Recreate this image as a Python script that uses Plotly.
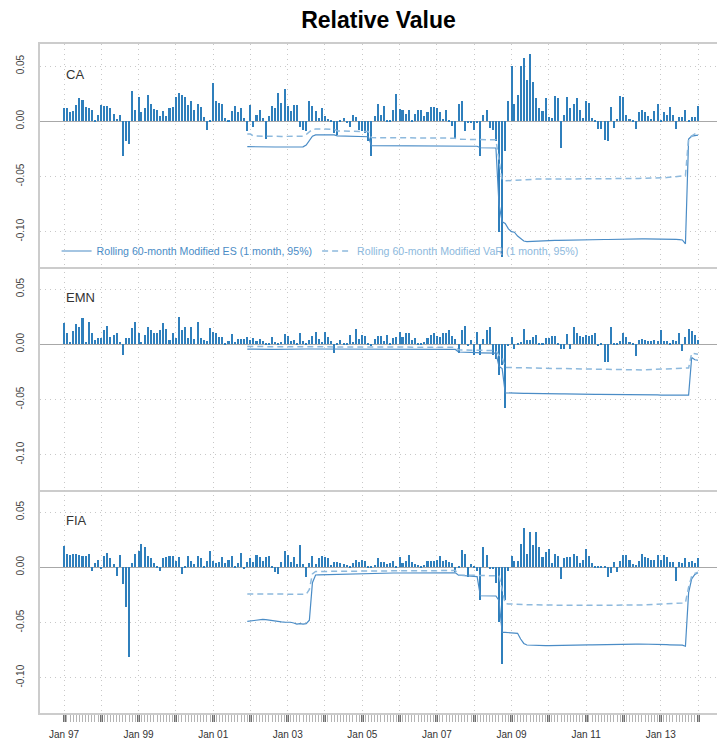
import pandas as pd
import plotly.graph_objects as go
from plotly.subplots import make_subplots

# ---------------- data (monthly returns, in units of 0.001) ----------------
CA = [
    12, 12, 8, 9, 15, 21, 19, 13, 12, 10, 1, 6,
    15, 14, 14, 12, 7, 2, 6, -31, -18, -21, 27, 10,
    22, 8, 12, 24, 16, 11, 10, 5, 9, 5, 12, 13,
    22, 26, 24, 22, 15, 18, 10, 16, 13, 4, -8, 1,
    35, 18, 17, 16, 3, 0.5, 9, 14, 8, 12, 3, -9,
    15, -5, 6, 10, 3, -16, 5, 14, 12, 26, 17, 29,
    14, 9, 15, 15, -5, -8, -9, 18, 14, 9, 3, 12,
    5, 2, 1, -11, -12, 1, 3, -1, -5, 6, 4, -8,
    -9, -11, -18, -31, 5, 16, 6, 14, 1, 0.5, 10, 25,
    11, 10, 7, 10, 1, 7, 10, 10, 5, 8, 13, 13,
    12, 8, 2, 10, 1, -4, -15, 16, 18, -9, -1, -2,
    -8, -1, -31, 6, 10, -6, -8, -18, -100, -123, -27, 18,
    50, 16, 24, 50, 57, 37, 61, 36, 21, 12, 9, 21,
    4, 3, 23, 21, -24, 6, 22, 12, 16, 21, 10, 3,
    18, 17, 3, 1, -7, -7, -17, -18, 13, -6, 2, 23,
    22, 6, 2, 0.5, -7, 8, 10, 8, 5, 2, 9, 16,
    1, 8, 6, 13, 6, -7, 4, 4, 10, 1, 4, 4,
    14,
]
EMN = [
    19, 10, 2, 12, 18, 16, 24, 2, 20, 10, 4, 6,
    6, 13, 17, 7, 8, 10, 2, -10, 6, 6, 15, 20,
    10, 2, 8, 16, 13, 10, 10, 13, 19, 14, 4, 10,
    6, 25, 13, 16, 6, 16, 5, 20, 6, 4, 3, 15,
    11, 10, 7, 7, 1, 3, 9, 2, 5, 5, 5, 7,
    4, 6, 3, 5, 3, 1.5, 0.5, 7, 2, 0.5, 2, 9,
    7.5, 3, 4, 1, 10, 3, 1, 4, 7.5, 11, 4.5, 2,
    11, 6.6, 3, -8, 1.5, 3.6, 1, 1, 8, 2, 14, 4.5,
    8, 7.5, 1.5, -2, 5, 7.5, 7.5, 3, 8, 1, 6, 6.6,
    11, 6.6, 10, 10, 3.6, 5.7, 0.6, 1, 2, 5.7, 8, 10,
    7.5, 6.6, 10, 10, 13, 7.5, 4.5, -8, 13, 17, -2, 3.6,
    -10, 11, -10, 5, 13, 16, -10, -13, -28, -19, -58, -1,
    7, -4, 1, 2, 14, 4, 4, 7, 8, 1, 1, 6,
    6, 7.5, 7.5, 1, -4, -4, 9, -4, 16, 10, 7.5, 6.6,
    8, 7.5, 8.7, 10, -2, 0.5, -16, -16, 16, 1, 1, 3,
    10, 6.6, 2, 1, -11, 4, 4.5, 3.6, 2.7, 2.7, 3.6, 3,
    13, 2.7, 2.7, 1.5, 3.6, 3, 10, -6, 7, 14, 12, 8,
    4,
]
FIA = [
    19, 12, 11, 12, 12, 11, 10, 10, 12, -3, 4, 7,
    -1.5, 10, 13, 8, 3, -8, 11, -15, -36, -81, 4, 12,
    15, 21, 18, 10, 8, 4, 1, -3, 8, 9, 10, 10,
    6, 9, -6, 0.5, 10, 6, 3, 10, 8, 0.5, 6, 15,
    6, 4, 5, 9, 4, 7, 10, 0.5, 4, 13, -1.5, 5,
    8, 5, 11, 9, 6, 9, 10, 0.5, -4, -6, 5, 15,
    11, 5, 9, 3, 20, 3, -9, 4, 10, 3, 8, 10,
    9, 8, 2, 5, 5, 4, 3, 2, 1, 4, 7, 5,
    7, 6, 0.5, 1, 2, 8, 5, 5, 3, 4, 6, 1,
    9, 4, 6, 11, 5, 3, 2, 1, 2, 6, 6, 6,
    7, 10, 6, 7, 5, 4, -4, 1, 16, 12, -9, 3,
    1.5, -3, -30, 18, 11, -1.5, -2, -14, -50, -88, -30, -3,
    10, 6, 6, 21, 36, 12, 32, 20, 32, 18, 9, 14,
    17, 4, 12, 10, -11, 8, 9, 9, 12, 10, 4, 7,
    17, 10, 4, 1.5, 0.5, 1.5, 1, -9, -5, 5, -4, 6,
    11, 11, 7, 3, 2, 6, 12, 9, 8, 7, 7, 11,
    7, 11, 9, 5, 5, -12, 5, 4, 8, 5, 6, 4,
    8,
]

# rolling 60-month modified ES / VaR (units of 0.001), from month 60 onward
WINDOW = 60
CA_ES = [
    -23.0, -23.1, -23.2, -23.2, -23.2, -23.2, -23.3, -23.3, -23.3, -23.3,
    -23.3, -23.4, -23.4, -23.4, -23.4, -23.3, -23.3, -23.3, -23.2,
    -21.5, -17.5, -13.5, -12.3,
    -12.2, -12.2, -12.2, -12.2, -12.3, -12.3,
    -13.2, -13.3, -13.3, -13.4, -13.5, -13.5, -13.5, -13.6, -13.7, -13.8, -14.0,
    -22.0, -22.0, -22.1, -22.1, -22.1, -22.1, -22.2, -22.2, -22.2, -22.2,
    -22.2, -22.2, -22.3, -22.3, -22.3, -22.3, -22.3, -22.3, -22.3, -22.3,
    -22.4, -22.4, -22.4, -22.4, -22.4, -22.4, -22.4, -22.5, -22.5, -22.5,
    -22.5, -22.5, -22.5, -22.5, -22.6,
    -24.0, -24.0, -24.1, -24.1, -24.2, -24.2,
    -75.0, -91.0, -92.5, -97.5, -100.0, -100.5, -104.0, -106.5, -108.5, -109.0,
    -108.8, -108.6, -108.5, -108.4, -108.3, -108.2, -108.1, -108.0, -107.9, -107.9,
    -107.8, -107.8, -107.7, -107.7, -107.6, -107.6, -107.5, -107.5, -107.4, -107.4,
    -107.3, -107.3, -107.2, -107.2, -107.1, -107.1, -107.0, -107.0, -106.9, -106.9,
    -106.8, -106.8, -106.8, -106.7, -106.7, -106.7, -106.6, -106.6, -106.6, -106.5,
    -106.5, -106.5, -106.5, -106.6, -106.7, -106.8, -106.9, -107.0, -107.2, -107.5,
    -111.0, -16.0, -13.5, -13.0, -12.5,
]
CA_VAR = [
    -11.5, -11.6,
    -13.4, -13.5, -13.5, -13.5, -13.6, -13.6, -13.6, -13.6, -13.6, -13.7,
    -13.7, -13.7, -13.6, -13.6, -13.6, -13.5, -13.5,
    -12.0, -9.5, -7.3,
    -7.0, -7.0, -7.0, -7.0, -7.1, -7.1, -7.2,
    -8.8, -8.9, -8.9, -9.0, -9.0, -9.1, -9.1, -9.1, -9.2, -9.2, -9.3,
    -14.8, -14.8, -14.9, -14.9, -14.9, -15.0, -15.0, -15.0, -15.0, -15.0,
    -15.1, -15.1, -15.1, -15.1, -15.1, -15.1, -15.2, -15.2, -15.2, -15.2,
    -15.2, -15.2, -15.3, -15.3, -15.3, -15.3, -15.3, -15.3,
    -16.3, -16.4, -16.4, -16.5, -16.5, -16.5, -16.6, -16.6, -16.6, -16.7,
    -16.7, -16.7, -16.8,
    -35.0, -53.0, -54.0,
    -53.8, -53.5, -53.2, -53.0, -52.8, -52.7, -52.6, -52.5, -52.5, -52.4,
    -52.4, -52.4, -52.3, -52.3, -52.3, -52.3, -52.2, -52.2, -52.2, -52.2,
    -52.2, -52.2, -52.1, -52.1, -52.1, -52.1, -52.1, -52.1, -52.0, -52.0,
    -52.0, -52.0, -52.0, -52.0, -52.0, -51.9, -51.9, -51.9, -51.9, -51.9,
    -51.8, -51.8, -51.8, -51.7, -51.7, -51.6, -51.6, -51.5, -51.4, -51.3,
    -51.2, -51.0, -50.8, -50.5, -50.2, -49.9, -49.6,
    -49.3, -15.0, -13.0, -11.5, -10.5,
]
EMN_ES = [
    -4.4, -4.5, -4.5, -4.5, -4.6, -4.6, -4.6, -4.6, -4.6, -4.6,
    -4.5, -4.5, -4.5, -4.5, -4.5, -4.5, -4.4, -4.4, -4.4,
    -4.3, -4.3, -4.3, -4.2, -4.2, -4.2, -4.2, -4.2, -4.3, -4.3,
    -4.3, -4.3, -4.3, -4.3, -4.4, -4.4, -4.4, -4.4, -4.4, -4.4,
    -4.5, -4.5, -4.5, -4.5, -4.5, -4.5, -4.5, -4.5, -4.5, -4.5,
    -4.6, -4.6, -4.6, -4.6, -4.6, -4.6, -4.6, -4.6, -4.6, -4.6,
    -4.7, -4.7, -4.7, -4.7, -4.7, -4.7, -4.7, -4.7, -4.7,
    -7.0, -7.2, -7.3, -7.5, -7.5, -7.6, -7.6, -7.7, -7.7, -7.8, -7.8, -7.9, -8.0,
    -20.0, -22.0, -44.0,
    -44.2, -44.3, -44.4, -44.4, -44.5, -44.5, -44.5, -44.6, -44.6, -44.6,
    -44.7, -44.7, -44.7, -44.8, -44.8, -44.8, -44.9, -44.9, -44.9, -45.0,
    -45.0, -45.0, -45.1, -45.1, -45.1, -45.2, -45.2, -45.2, -45.3, -45.3,
    -45.3, -45.4, -45.4, -45.4, -45.5, -45.5, -45.5, -45.6, -45.6, -45.6,
    -45.7, -45.7, -45.7, -45.8, -45.8, -45.8, -45.9, -45.9, -45.9, -46.0,
    -46.0, -46.0, -46.0, -46.0, -46.0, -46.0, -46.0, -46.1,
    -46.1, -12.0, -14.0, -14.5,
]
EMN_VAR = [
    -2.0, -2.1, -2.1, -2.1, -2.2, -2.2, -2.2, -2.2, -2.2, -2.2,
    -2.2, -2.2, -2.2, -2.1, -2.1, -2.1, -2.1, -2.1, -2.0,
    -2.0, -2.0, -2.0, -2.0, -2.0, -2.0, -2.1, -2.1, -2.1, -2.1,
    -2.1, -2.2, -2.2, -2.2, -2.2, -2.2, -2.3, -2.3, -2.3, -2.3,
    -2.3, -2.4, -2.4, -2.4, -2.4, -2.4, -2.5, -2.5, -2.5, -2.5,
    -2.5, -2.5, -2.6, -2.6, -2.6, -2.6, -2.6, -2.6, -2.7, -2.7,
    -2.7, -2.7, -2.7, -2.7, -2.8, -2.8, -2.8, -2.8, -2.8,
    -5.0, -5.1, -5.2, -5.3, -5.4, -5.5, -5.5, -5.6, -5.6, -5.7, -5.7, -5.8, -5.8,
    -10.0, -12.0, -21.0,
    -21.1, -21.2, -21.2, -21.3, -21.3, -21.4, -21.4, -21.5, -21.5, -21.6,
    -21.6, -21.7, -21.7, -21.8, -21.8, -21.9, -21.9, -22.0, -22.0, -22.1,
    -22.1, -22.2, -22.2, -22.3, -22.3, -22.4, -22.4, -22.5, -22.5, -22.6,
    -22.6, -22.7, -22.7, -22.8, -22.8, -22.9, -22.9, -23.0, -23.0, -23.1,
    -23.1, -23.2, -23.2, -23.2, -23.1, -23.0, -22.9, -22.8, -22.7, -22.6,
    -22.5, -22.4, -22.3, -22.2, -22.1, -22.0, -21.8, -21.5,
    -21.5, -8.0, -8.5, -9.0,
]
FIA_ES = [
    -49.0, -48.5, -48.0, -47.5, -47.3, -47.2, -47.5, -48.0, -48.5, -49.2,
    -49.5, -49.5, -49.7, -49.5, -49.8, -50.5, -51.5, -51.0, -51.5, -51.0, -48.0,
    -14.0, -7.0,
    -6.9, -6.8, -6.7, -6.6, -6.5, -6.4, -6.3, -6.2, -6.1, -6.0, -5.9, -5.8, -5.7, -5.6,
    -5.5, -5.5, -5.4, -5.4, -5.4, -5.3, -5.3, -5.3, -5.3, -5.2,
    -5.2, -5.2, -5.2, -5.2, -5.1, -5.1, -5.1, -5.1, -5.1, -5.1,
    -5.0, -5.0, -5.0, -5.0, -5.0, -5.0, -5.0, -5.0, -5.0, -5.0, -5.0,
    -7.2, -7.4, -8.0, -8.2, -8.3, -8.4, -8.5,
    -25.8, -25.8, -25.9, -25.9, -26.0, -26.0, -30.0,
    -59.0, -59.0, -59.2, -59.3, -59.5, -59.8,
    -65.0, -69.0,
    -70.4, -70.6, -70.8, -70.9, -71.0, -71.0, -71.0, -70.9, -70.9, -70.8,
    -70.8, -70.7, -70.7, -70.6, -70.6, -70.5, -70.5, -70.4, -70.4, -70.3,
    -70.3, -70.2, -70.2, -70.1, -70.1, -70.0, -70.0, -69.9, -69.9, -69.8,
    -69.8, -69.7, -69.7, -69.6, -69.6, -69.6, -69.5, -69.5, -69.5, -69.5,
    -69.6, -69.7, -69.8, -69.9, -70.0, -70.1, -70.2, -70.3, -70.4, -70.5, -70.6,
    -71.5, -23.0, -10.5, -6.5, -5.0,
]
FIA_VAR = [
    -24.2, -24.2, -24.2, -24.2, -24.1, -24.1, -24.1, -24.1, -24.2, -24.2,
    -24.2, -24.2, -24.3, -24.3, -24.3, -24.3, -24.4, -24.4, -24.4, -24.4,
    -20.0, -6.0,
    -3.8, -3.8, -3.8, -3.7, -3.7, -3.7, -3.7, -3.6, -3.6, -3.6,
    -3.6, -3.5, -3.5, -3.5, -3.5, -3.4, -3.4, -3.4, -3.4, -3.3,
    -3.3, -3.3, -3.3, -3.2, -3.2, -3.2, -3.2, -3.1, -3.1, -3.1,
    -3.1, -3.0, -3.0, -3.0, -3.0, -3.0, -3.0, -3.0, -3.0, -3.0,
    -3.0, -3.0, -3.0, -3.0, -3.0, -3.0,
    -7.0, -7.1, -7.2, -7.3, -7.4, -7.4, -7.5, -7.5, -7.6, -7.6, -7.6, -7.7, -7.7, -7.8,
    -20.0, -33.0,
    -33.2, -33.4, -33.5, -33.6, -33.7, -33.8, -33.9, -34.0, -34.0, -34.1,
    -34.1, -34.2, -34.2, -34.3, -34.3, -34.3, -34.4, -34.4, -34.4, -34.5,
    -34.5, -34.5, -34.5, -34.6, -34.6, -34.6, -34.6, -34.7, -34.7, -34.7,
    -34.7, -34.8, -34.8, -34.8, -34.8, -34.8, -34.8, -34.8, -34.7, -34.6,
    -34.5, -34.4, -34.3, -34.2, -34.1, -34.0, -33.9, -33.8, -33.6, -33.4,
    -33.2, -33.0, -32.8, -32.6, -32.5, -32.4, -32.3,
    -32.0, -18.0, -8.0, -5.5, -4.5,
]

SERIES = ["CA", "EMN", "FIA"]
RETURNS = [CA, EMN, FIA]
ES = [CA_ES, EMN_ES, FIA_ES]
VAR = [CA_VAR, EMN_VAR, FIA_VAR]

Y_TICKS = [0.05, 0.0, -0.05, -0.10]
Y_TICKTEXT = ["0.05", "0.00", "-0.05", "-0.10"]
LABEL_YEARS = {"97", "99", "01", "03", "05", "07", "09", "11", "13"}
TITLE = "Relative Value"
ES_NAME = "Rolling 60-month Modified ES (1 month, 95%)"
VAR_NAME = "Rolling 60-month Modified VaR (1 month, 95%)"

n = len(CA)
for s in RETURNS:
    assert len(s) == n, len(s)
for s in ES + VAR:
    assert len(s) == n - WINDOW + 1, len(s)

dates = pd.date_range("1997-01-01", periods=n, freq="MS") + pd.offsets.MonthEnd(0)
roll_dates = dates[WINDOW - 1:]
# one tick per month; only January of odd years carries a label
month_ticktext = [d.strftime("Jan %y") if (d.month == 1 and d.strftime("%y") in LABEL_YEARS) else ""
                  for d in dates]

# ---------------- styling ----------------
BAR_C = "#2f7fbc"
ES_C = "#4a8cc6"
VAR_C = "#8db9dd"
GRID_C = "#c8c8c8"
FRAME_C = "#cccccc"
FONT = "Liberation Sans, Arial, sans-serif"
DAY_MS = 24 * 3600 * 1000

fig = make_subplots(rows=3, cols=1, shared_xaxes=True, vertical_spacing=0)

for r, (name, ret, es, var) in enumerate(zip(SERIES, RETURNS, ES, VAR), start=1):
    fig.add_trace(go.Bar(x=dates, y=[v / 1000 for v in ret], marker_color=BAR_C,
                         marker_line_width=0, width=20 * DAY_MS, showlegend=False,
                         hoverinfo="x+y"), row=r, col=1)
    fig.add_trace(go.Scatter(x=roll_dates, y=[v / 1000 for v in es], mode="lines",
                             line=dict(color=ES_C, width=1.2),
                             name=f'<span style="color:{ES_C}">{ES_NAME}</span>',
                             legendgroup="es", showlegend=(r == 1)), row=r, col=1)
    fig.add_trace(go.Scatter(x=roll_dates, y=[v / 1000 for v in var], mode="lines",
                             line=dict(color=VAR_C, width=1.5, dash="6px,4px"),
                             name=f'<span style="color:{VAR_C}">{VAR_NAME}</span>',
                             legendgroup="var", showlegend=(r == 1)), row=r, col=1)
    fig.add_annotation(text=name, xref="paper", yref=f"y{'' if r == 1 else r} domain",
                       x=0.035, y=0.862, xanchor="left", yanchor="middle",
                       showarrow=False, font=dict(size=13, color="#333333", family=FONT))

x_range = [pd.Timestamp("1996-06-10"), pd.Timestamp("2014-08-05")]
for r in (1, 2, 3):
    bottom = (r == 3)
    fig.update_xaxes(row=r, col=1, type="date", range=x_range,
                     tickvals=list(dates), ticktext=month_ticktext,
                     showgrid=False,
                     showline=True, linecolor=FRAME_C, linewidth=2,
                     mirror=(r == 1),
                     showticklabels=bottom, ticklabelstandoff=4,
                     ticks="outside" if bottom else "", ticklen=7, tickwidth=1,
                     tickcolor="#b4b4b4",
                     tickfont=dict(size=10, color="#333333", family=FONT),
                     minor=dict(dtick="M12", tick0=dates[0],
                                ticks="outside" if bottom else "",
                                ticklen=7, tickwidth=2.5, tickcolor="#6e6e6e",
                                showgrid=True, gridcolor=GRID_C, griddash="1px,4px",
                                gridwidth=1))
    fig.update_yaxes(row=r, col=1, range=[-0.132, 0.070],
                     tickvals=Y_TICKS, ticktext=Y_TICKTEXT, tickangle=-90,
                     showgrid=True, gridcolor=GRID_C, griddash="1px,4px", gridwidth=1,
                     zeroline=True, zerolinecolor="#a8a8a8", zerolinewidth=1,
                     showline=True, linecolor=FRAME_C, linewidth=2,
                     ticks="", ticklabelstandoff=10,
                     tickfont=dict(size=10, color="#444444", family=FONT))

fig.update_layout(
    width=719, height=744,
    margin=dict(l=40, r=2, t=44, b=31),
    paper_bgcolor="white", plot_bgcolor="white",
    bargap=0,
    title=dict(text=f"<b>{TITLE}</b>", x=0.5, xref="paper", xanchor="center",
               y=1 - 20 / 744, yref="container", yanchor="middle",
               font=dict(size=23, color="#000000", family=FONT)),
    legend=dict(orientation="h", x=0.0245, y=0.6906, xanchor="left", yanchor="middle",
                bgcolor="rgba(0,0,0,0)", font=dict(size=10.6, family=FONT),
                itemwidth=30, tracegroupgap=0),
    font=dict(family=FONT),
)

fig.write_html("out.html")
